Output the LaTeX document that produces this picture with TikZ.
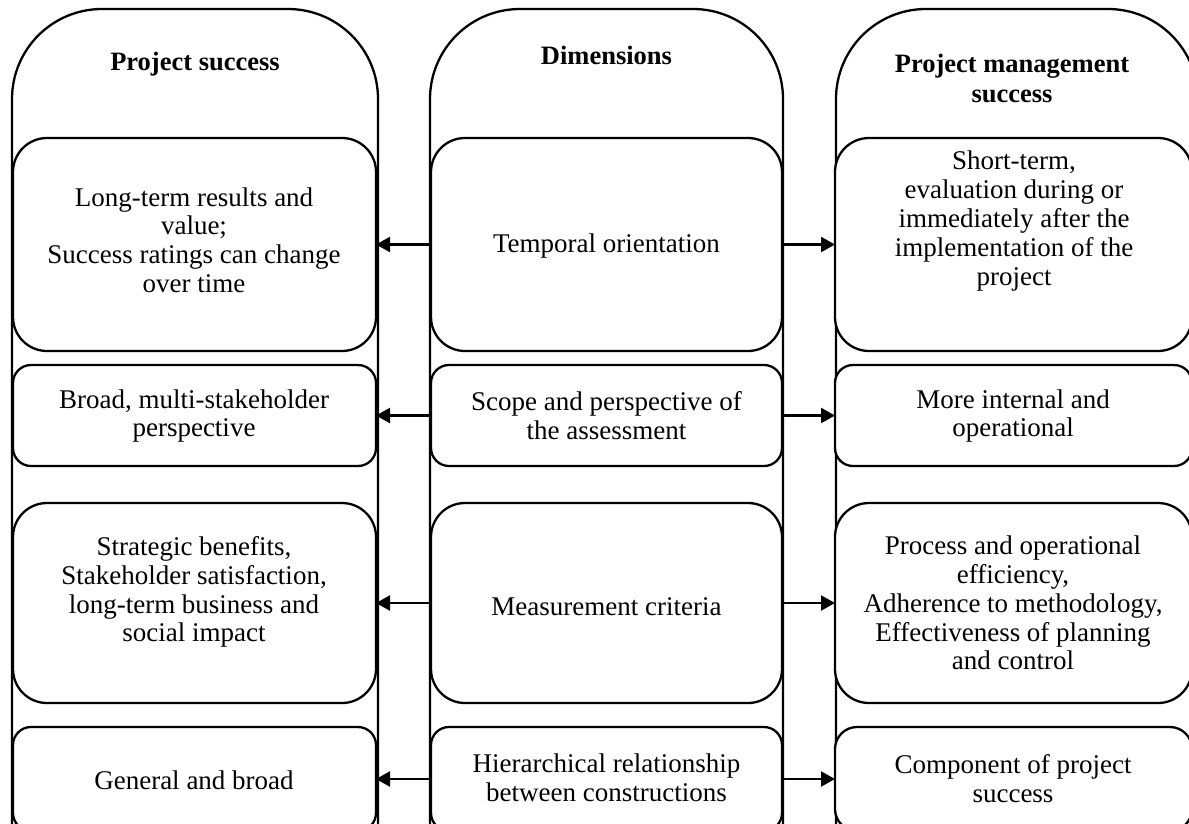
\documentclass[tikz,border=0pt]{standalone}
\usepackage{fontspec}
\setmainfont{Liberation Serif}
\usetikzlibrary{arrows.meta}
\begin{document}
\begin{tikzpicture}[x=1pt,y=-1pt,
  outerbox/.style={draw=black, line width=2.3pt, rounded corners=90pt, inner sep=0pt, outer sep=0pt, fill=white},
  innerbox/.style={draw=black, line width=2.3pt, inner sep=0pt, outer sep=0pt, fill=white},
  txt/.style={align=center, inner sep=0pt, font=\fontsize{27}{28.8}\selectfont},
  hdr/.style={align=center, inner sep=0pt, font=\fontsize{26.5}{30}\selectfont\bfseries},
  arr/.style={line width=2.3pt, -{Triangle[length=14pt,width=15pt]}}]
\useasboundingbox (0,0) rectangle (1189,823);
\clip (0,0) rectangle (1189,823);
% outer columns
\node[outerbox, minimum width=366pt, minimum height=1000pt] (lo) at (195,509) {};
\node[outerbox, minimum width=353pt, minimum height=1000pt] (mo) at (606.5,509) {};
\node[outerbox, minimum width=362pt, minimum height=1000pt] (ro) at (1017,509) {};
% headers
\node[hdr] (lh) at (195,64) {Project success};
\node[hdr] (mh) at (606.5,55) {Dimensions};
\node[hdr] (rh) at (1012,78) {Project management\\success};
% row 1
\node[innerbox, rounded corners=34pt, minimum width=363pt, minimum height=213pt] (l1) at (194.5,244.5) {};
\node[innerbox, rounded corners=34pt, minimum width=351pt, minimum height=213pt] (m1) at (606.5,244.5) {};
\node[innerbox, rounded corners=34pt, minimum width=357pt, minimum height=213pt] (r1) at (1013.5,244.5) {};
% row 2
\node[innerbox, rounded corners=18pt, minimum width=363pt, minimum height=101pt] (l2) at (194.5,415.5) {};
\node[innerbox, rounded corners=18pt, minimum width=351pt, minimum height=101pt] (m2) at (606.5,415.5) {};
\node[innerbox, rounded corners=18pt, minimum width=357pt, minimum height=101pt] (r2) at (1013.5,415.5) {};
% row 3
\node[innerbox, rounded corners=34pt, minimum width=363pt, minimum height=200pt] (l3) at (194.5,603) {};
\node[innerbox, rounded corners=34pt, minimum width=351pt, minimum height=200pt] (m3) at (606.5,603) {};
\node[innerbox, rounded corners=34pt, minimum width=357pt, minimum height=200pt] (r3) at (1013.5,603) {};
% row 4
\node[innerbox, rounded corners=18pt, minimum width=363pt, minimum height=104pt] (l4) at (194.5,779) {};
\node[innerbox, rounded corners=18pt, minimum width=351pt, minimum height=104pt] (m4) at (606.5,779) {};
\node[innerbox, rounded corners=22pt, minimum width=357pt, minimum height=104pt] (r4) at (1013.5,779) {};
% texts
\node[txt] (l1t) at (194,240) {Long-term results and\\value;\\Success ratings can change\\over time};
\node[txt] (m1t) at (606.5,246) {Temporal orientation};
\node[txt] (r1t) at (1014,221) {Short-term,\\evaluation during or\\immediately after the\\implementation of the\\project};
\node[txt] (l2t) at (194,416) {Broad, multi-stakeholder\\perspective};
\node[txt] (m2t) at (606.5,416) {Scope and perspective of\\the assessment};
\node[txt] (r2t) at (1013,416) {More internal and\\operational};
\node[txt] (l3t) at (194,592) {Strategic benefits,\\Stakeholder satisfaction,\\long-term business and\\social impact};
\node[txt] (m3t) at (606.5,607) {Measurement criteria};
\node[txt] (r3t) at (1013,603) {Process and operational\\efficiency,\\Adherence to methodology,\\Effectiveness of planning\\and control};
\node[txt] (l4t) at (194,780) {General and broad};
\node[txt] (m4t) at (606.5,778) {Hierarchical relationship\\between constructions};
\node[txt] (r4t) at (1013,779) {Component of project\\success};
% arrows
\draw[arr] (m1.west) -- (l1.east);
\draw[arr] (m1.east) -- (r1.west);
\draw[arr] (m2.west) -- (l2.east);
\draw[arr] (m2.east) -- (r2.west);
\draw[arr] (m3.west) -- (l3.east);
\draw[arr] (m3.east) -- (r3.west);
\draw[arr] (m4.west) -- (l4.east);
\draw[arr] (m4.east) -- (r4.west);
\end{tikzpicture}
\end{document}
